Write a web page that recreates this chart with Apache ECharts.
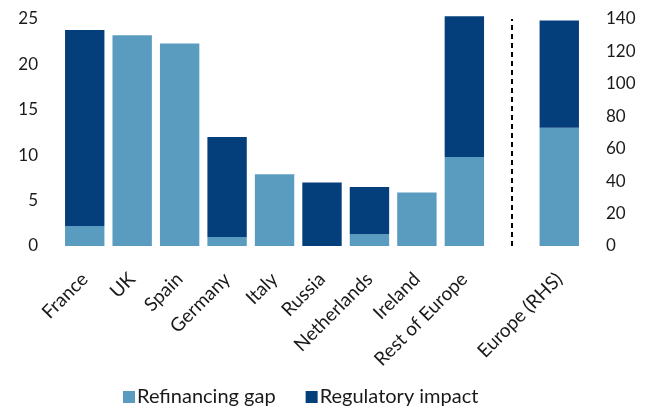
<!DOCTYPE html>
<html>
<head>
<meta charset="utf-8">
<script src="https://cdn.jsdelivr.net/npm/echarts@6/dist/echarts.min.js"></script>
<style>
  html, body { margin: 0; padding: 0; background: #fff; }
  #chart { width: 651px; height: 410px; }
</style>
</head>
<body>
<div id="chart"></div>
<script>
// Country categories; an empty slot separates the Europe total (right-hand scale)
const categories = ['France', 'UK', 'Spain', 'Germany', 'Italy', 'Russia', 'Netherlands', 'Ireland', 'Rest of Europe', '', 'Europe (RHS)'];

// Left-hand scale values per country
const refinancingGap   = [2.2, 23.2, 22.3, 1.0, 7.9, 0, 1.3, 5.9, 9.8, null, null];
const regulatoryImpact = [21.6, 0, 0, 11.0, 0, 7.0, 5.2, 0, 15.5, null, null];

// Right-hand scale values (Europe total)
const europeRefinancing = [null, null, null, null, null, null, null, null, null, null, 73];
const europeRegulatory  = [null, null, null, null, null, null, null, null, null, null, 66];

const leftTicks = { min: 0, max: 25, interval: 5 };
const rightTicks = { min: 0, max: 140, interval: 20 };

const LIGHT = '#5A9BC0';
const DARK = '#043F7B';
const FONT = 'Lato';
const TEXT = '#1a1a1a';

const chart = echarts.init(document.getElementById('chart'), null, { renderer: 'canvas' });

const barBase = { type: 'bar', barWidth: '83%', barGap: '-100%', clip: false, emphasis: { disabled: true } };

chart.setOption({
  animation: false,
  textStyle: { fontFamily: FONT },
  grid: { left: 61, right: 68, top: 19, bottom: 164, containLabel: false },
  legend: {
    data: ['Refinancing gap', 'Regulatory impact'],
    top: 387,
    left: 123,
    padding: 0,
    icon: 'rect',
    itemWidth: 12,
    itemHeight: 12,
    itemGap: 30,
    textStyle: { fontFamily: FONT, fontSize: 20, color: TEXT, padding: [0, 0, 0, -3] }
  },
  xAxis: {
    type: 'category',
    data: categories,
    axisLine: { show: false },
    axisTick: { show: false },
    axisLabel: { interval: 0, rotate: 45, margin: 30, fontSize: 19, color: TEXT, fontFamily: FONT }
  },
  yAxis: [
    {
      type: 'value',
      min: leftTicks.min, max: leftTicks.max, interval: leftTicks.interval,
      splitLine: { show: false }, axisLine: { show: false }, axisTick: { show: false },
      axisLabel: { margin: 23, fontSize: 17, color: TEXT, fontFamily: FONT }
    },
    {
      type: 'value',
      min: rightTicks.min, max: rightTicks.max, interval: rightTicks.interval,
      splitLine: { show: false }, axisLine: { show: false }, axisTick: { show: false },
      axisLabel: { margin: 23, fontSize: 17, color: TEXT, fontFamily: FONT }
    }
  ],
  series: [
    Object.assign({}, barBase, {
      name: 'Refinancing gap', stack: 'lhs', yAxisIndex: 0, data: refinancingGap,
      itemStyle: { color: LIGHT },
      markLine: {
        silent: true, symbol: 'none', label: { show: false },
        lineStyle: { color: '#000', width: 2, type: [5, 4] },
        data: [{ xAxis: 9 }]
      }
    }),
    Object.assign({}, barBase, {
      name: 'Regulatory impact', stack: 'lhs', yAxisIndex: 0, data: regulatoryImpact,
      itemStyle: { color: DARK }
    }),
    Object.assign({}, barBase, {
      name: 'Refinancing gap', stack: 'rhs', yAxisIndex: 1, data: europeRefinancing,
      itemStyle: { color: LIGHT }
    }),
    Object.assign({}, barBase, {
      name: 'Regulatory impact', stack: 'rhs', yAxisIndex: 1, data: europeRegulatory,
      itemStyle: { color: DARK }
    })
  ]
});
</script>
</body>
</html>
